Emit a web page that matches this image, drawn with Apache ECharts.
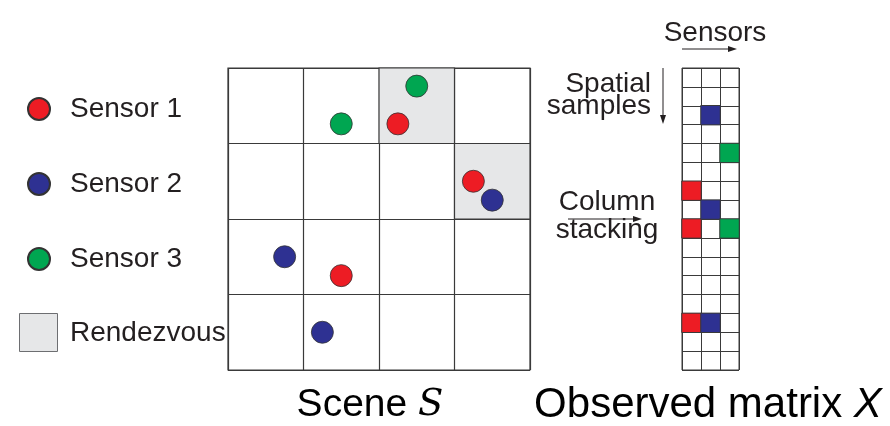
<!DOCTYPE html>
<html><head><meta charset="utf-8">
<script src="https://cdn.jsdelivr.net/npm/echarts@6/dist/echarts.min.js"></script>
<style>html,body{margin:0;padding:0;background:#fff}#c{width:890px;height:426px}</style>
</head><body><div id="c"></div>
<script>
// ---- data ----
const sensorNames = ['Sensor 1', 'Sensor 2', 'Sensor 3'];
const sensorColors = ['#ed1c24', '#2e3192', '#00a651'];
// positions in scene cell units (x: column, y: row from top), 4x4 scene
const sensor1 = [[2.25, 0.74], [3.25, 1.5], [1.5, 2.75]];
const sensor2 = [[3.5, 1.75], [0.75, 2.5], [1.25, 3.5]];
const sensor3 = [[2.5, 0.24], [1.5, 0.74]];
const sceneSize = 4;
const sampleLabels = Array.from({length: sceneSize * sceneSize}, (_, i) => String(i));

const sensorData = [sensor1, sensor2, sensor3];
// observed matrix: column stacking of scene cells (index = col*4 + row)
const matrixCells = [];
const cellSensors = {};
sensorData.forEach((pts, s) => {
  pts.forEach(p => {
    const c = Math.floor(p[0]), r = Math.floor(p[1]);
    matrixCells.push({value: [s, c * sceneSize + r, 1], itemStyle: {color: sensorColors[s]}});
    const k = c + ',' + r;
    (cellSensors[k] = cellSensors[k] || new Set()).add(s);
  });
});
const rendezvous = Object.keys(cellSensors).filter(k => cellSensors[k].size > 1)
  .map(k => { const [c, r] = k.split(',').map(Number); return [{coord: [c, r]}, {coord: [c + 1, r + 1]}]; });

const FONT = 'Liberation Sans';
const TXT = '#231f20';
const LINE = '#3a3a3a';

function arrow(x1, y1, x2, y2) {
  const dx = x2 - x1, dy = y2 - y1, L = Math.hypot(dx, dy), ux = dx / L, uy = dy / L;
  const hl = 9, hw = 3;
  const bx = x2 - ux * hl, by = y2 - uy * hl;
  return [
    {type: 'line', shape: {x1, y1, x2: bx, y2: by}, style: {stroke: TXT, lineWidth: 1}},
    {type: 'polygon', shape: {points: [[x2, y2], [bx - uy * hw, by + ux * hw], [bx + uy * hw, by - ux * hw]]}, style: {fill: TXT}}
  ];
}

const chart = echarts.init(document.getElementById('c'));
chart.setOption({
  animation: false,
  textStyle: {fontFamily: FONT},
  legend: {
    data: sensorNames.map(n => ({name: n, icon: 'circle'})),
    orient: 'vertical', left: 22, top: 90, itemWidth: 22, itemHeight: 22, itemGap: 47,
    textStyle: {fontSize: 28, color: TXT, fontFamily: FONT, padding: [0, 0, 0, 15]},
    selectedMode: false
  },
  grid: [
    {left: 228, top: 68, width: 302, height: 302, show: true, borderColor: LINE, borderWidth: 1.2},
    {left: 682, top: 68, width: 57, height: 302, show: true, borderColor: LINE, borderWidth: 1}
  ],
  xAxis: [
    {gridIndex: 0, type: 'value', min: 0, max: sceneSize, interval: 1, axisLabel: {show: false}, axisTick: {show: false}, axisLine: {show: false}, splitLine: {lineStyle: {color: LINE, width: 1.2}}},
    {gridIndex: 1, type: 'category', data: sensorNames, axisLabel: {show: false, interval: 0}, axisTick: {show: false, interval: 0}, axisLine: {show: false}, splitLine: {show: true, interval: 0, lineStyle: {color: LINE, width: 1}}}
  ],
  yAxis: [
    {gridIndex: 0, type: 'value', inverse: true, min: 0, max: sceneSize, interval: 1, axisLabel: {show: false}, axisTick: {show: false}, axisLine: {show: false}, splitLine: {lineStyle: {color: LINE, width: 1.2}}},
    {gridIndex: 1, type: 'category', inverse: true, data: sampleLabels, axisLabel: {show: false, interval: 0}, axisTick: {show: false, interval: 0}, axisLine: {show: false}, splitLine: {show: true, interval: 0, lineStyle: {color: LINE, width: 1}}}
  ],
  series: [
    {type: 'scatter', name: 'Rendezvous', xAxisIndex: 0, yAxisIndex: 0, data: [], z: 1,
      markArea: {silent: true, itemStyle: {color: '#e6e7e8', borderColor: LINE, borderWidth: 1.2}, data: rendezvous}},
    ...sensorData.map((d, i) => ({
      type: 'scatter', name: sensorNames[i], xAxisIndex: 0, yAxisIndex: 0, data: d, symbolSize: 22, z: 3,
      itemStyle: {color: sensorColors[i], borderColor: '#333', borderWidth: 0.8, opacity: 1}
    })),
    {type: 'heatmap', xAxisIndex: 1, yAxisIndex: 1, data: matrixCells,
      itemStyle: {borderColor: LINE, borderWidth: 1}}
  ],
  graphic: [
    {type: 'rect', shape: {x: 19.5, y: 313.5, width: 38, height: 38}, style: {fill: '#e6e7e8', stroke: '#6d6e71', lineWidth: 1}},
    {type: 'text', x: 70, y: 333, style: {text: 'Rendezvous', font: '28px "Liberation Sans"', fill: TXT, textVerticalAlign: 'middle'}},
    {type: 'text', x: 715, y: 33, style: {text: 'Sensors', font: '28px "Liberation Sans"', fill: TXT, textAlign: 'center', textVerticalAlign: 'middle'}},
    ...arrow(682, 49, 737, 49),
    {type: 'text', x: 651, y: 84, style: {text: 'Spatial', font: '28px "Liberation Sans"', fill: TXT, textAlign: 'right', textVerticalAlign: 'middle'}},
    {type: 'text', x: 651, y: 106, style: {text: 'samples', font: '28px "Liberation Sans"', fill: TXT, textAlign: 'right', textVerticalAlign: 'middle'}},
    ...arrow(663, 68, 663, 124),
    {type: 'text', x: 607, y: 202, style: {text: 'Column', font: '28px "Liberation Sans"', fill: TXT, textAlign: 'center', textVerticalAlign: 'middle'}},
    {type: 'text', x: 607, y: 230, style: {text: 'stacking', font: '28px "Liberation Sans"', fill: TXT, textAlign: 'center', textVerticalAlign: 'middle'}},
    ...arrow(568, 219, 642, 219),
    {type: 'text', x: 370, y: 405, style: {
      text: '{a|Scene }{s|S}', textAlign: 'center', textVerticalAlign: 'middle',
      rich: {a: {fontFamily: FONT, fontSize: 39, color: TXT}, s: {fontFamily: 'DejaVu Serif', fontStyle: 'italic', fontSize: 37, color: TXT}}}},
    {type: 'text', x: 708, y: 405, style: {
      text: '{a|Observed matrix }{x|X}', textAlign: 'center', textVerticalAlign: 'middle',
      rich: {a: {fontFamily: FONT, fontSize: 42, color: TXT}, x: {fontFamily: FONT, fontStyle: 'italic', fontSize: 42, color: TXT}}}}
  ]
});
</script></body></html>
